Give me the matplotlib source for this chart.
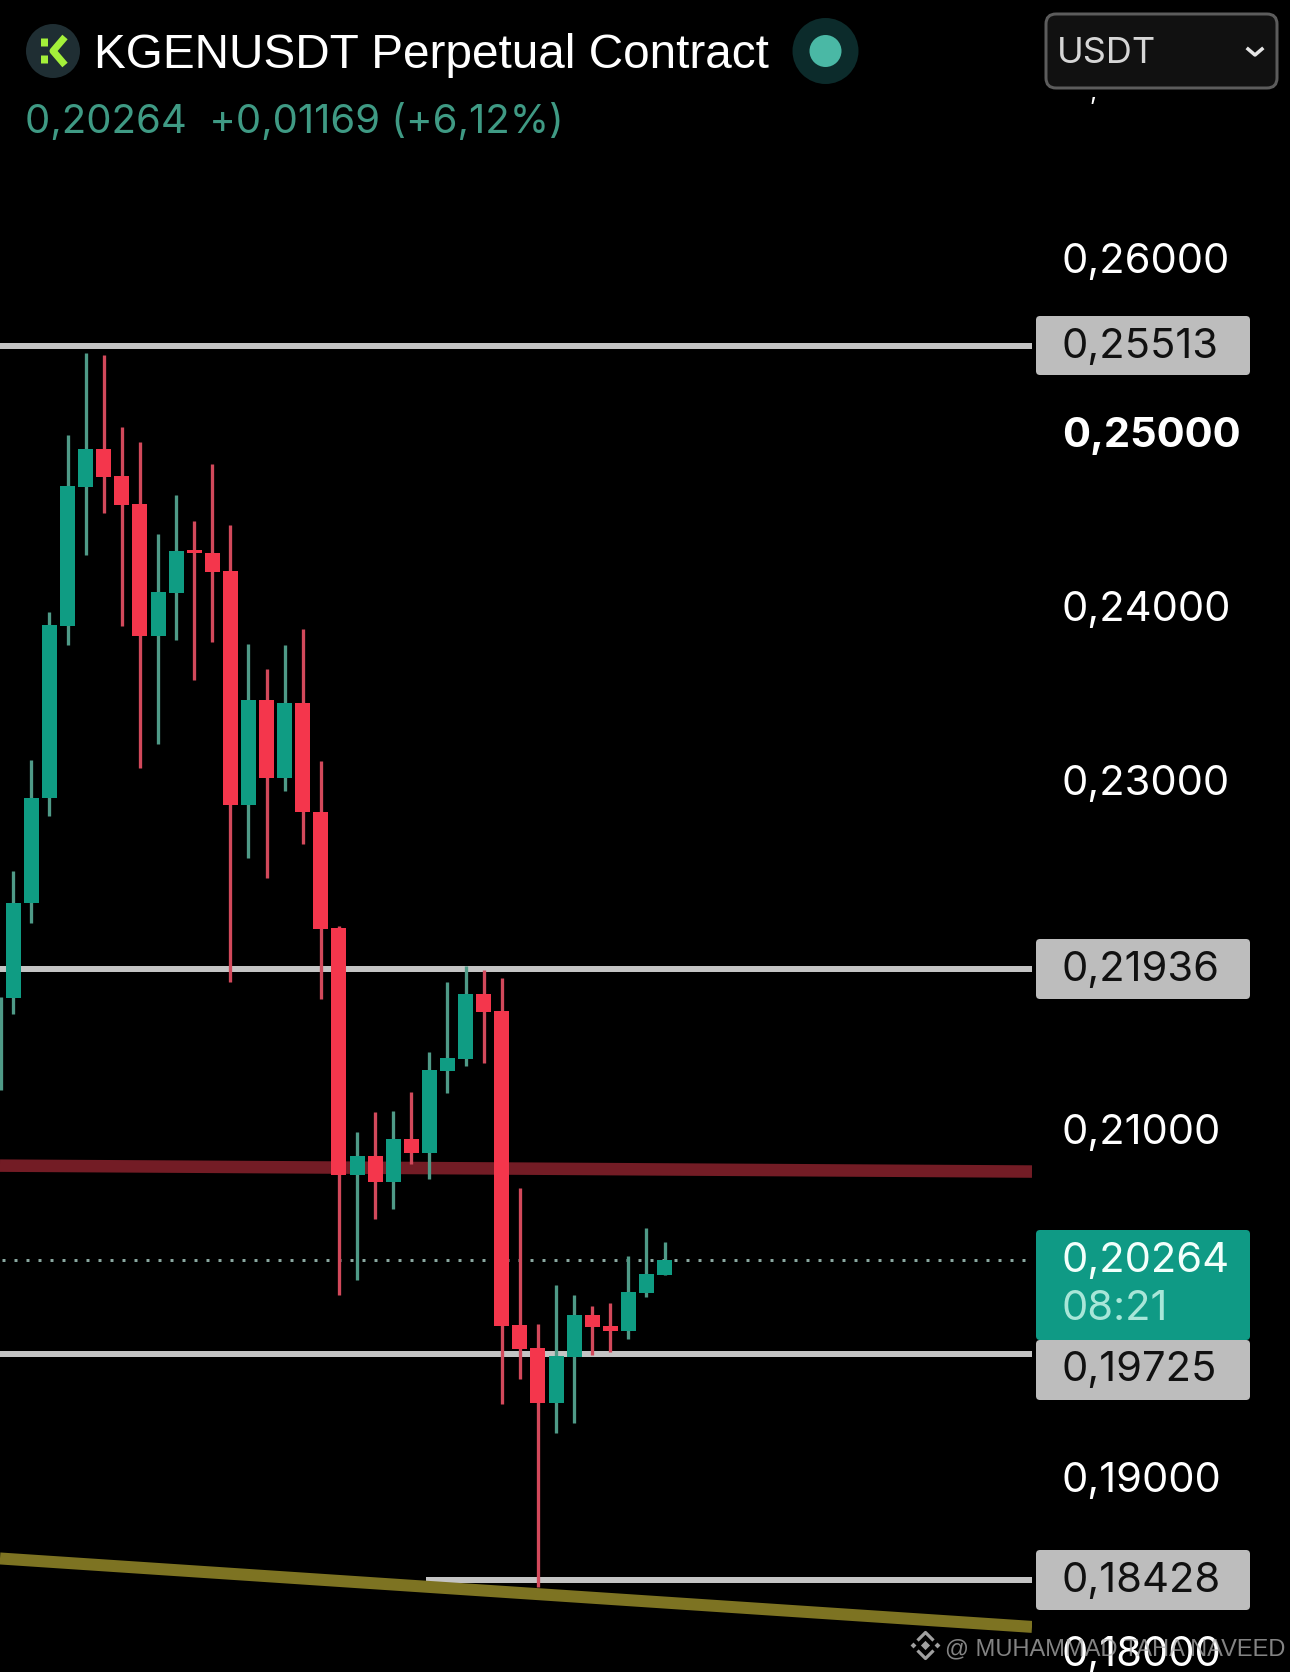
import matplotlib
matplotlib.use("Agg")
import matplotlib.pyplot as plt
from matplotlib.patches import Circle, FancyBboxPatch
from matplotlib.transforms import ScaledTranslation

FONT = "Inter"
TITLE_FONT = "Liberation Sans"

opens = [0.21772, 0.22314, 0.22917, 0.23909, 0.24707, 0.24923, 0.24768, 0.24607, 0.23851, 0.24098,
         0.24343, 0.24326, 0.24223, 0.22881, 0.23482, 0.23036, 0.23465, 0.22839, 0.22173, 0.20756,
         0.20863, 0.20716, 0.20961, 0.20882, 0.21353, 0.21422, 0.21794, 0.21696, 0.19893, 0.19759,
         0.19445, 0.19711, 0.19950, 0.19887, 0.19858, 0.20077, 0.20182]
closes = [0.22314, 0.22917, 0.23913, 0.24711, 0.24923, 0.24764, 0.24602, 0.23851, 0.24102, 0.24338,
          0.24328, 0.24219, 0.22881, 0.23482, 0.23036, 0.23465, 0.22837, 0.22169, 0.20756, 0.20863,
          0.20716, 0.20961, 0.20882, 0.21357, 0.21426, 0.21794, 0.21692, 0.19889, 0.19755, 0.19445,
          0.19715, 0.19950, 0.19881, 0.19858, 0.20082, 0.20186, 0.20264]
highs = [0.22500, 0.23137, 0.23986, 0.25004, 0.25475, 0.25463, 0.25050, 0.24963, 0.24435, 0.24659,
         0.24510, 0.24835, 0.24487, 0.23804, 0.23660, 0.23798, 0.23890, 0.23132, 0.22182, 0.21001,
         0.21116, 0.21122, 0.21231, 0.21461, 0.21862, 0.21954, 0.21931, 0.21886, 0.20680, 0.19899,
         0.20123, 0.20065, 0.20002, 0.20019, 0.20289, 0.20450, 0.20370]
lows = [0.21679, 0.22203, 0.22818, 0.23798, 0.24315, 0.24557, 0.23907, 0.23093, 0.23231, 0.23828,
        0.23598, 0.23815, 0.21864, 0.22576, 0.22461, 0.22961, 0.22653, 0.21765, 0.20065, 0.20153,
        0.20503, 0.20561, 0.20817, 0.20733, 0.21225, 0.21382, 0.21397, 0.19439, 0.19583, 0.18387,
        0.19273, 0.19330, 0.19721, 0.19740, 0.19813, 0.20055, 0.20182]
# wick of an earlier candle, only its wick enters the picture at the left edge
edge_wick_slot = -0.68
edge_wick_high = 0.21776
edge_wick_low = 0.21242

level_values = [0.25513, 0.21936, 0.19725]
low_level_value = 0.18428
low_level_start = 22.8
last_price = 0.20264
red_zone_prices = [0.20808, 0.20774]
olive_trend_prices = [0.18552, 0.18159]
tick_values = [0.26, 0.25, 0.24, 0.23, 0.21, 0.19, 0.18]
tick_labels = ["0,26000", "0,25000", "0,24000", "0,23000", "0,21000", "0,19000", "0,18000"]

title = "KGENUSDT Perpetual Contract"
subtitle = "0,20264  +0,01169 (+6,12%)"

GREEN, RED = "#0f9c83", "#f4364c"
GREEN_W, RED_W = "#4f9a87", "#d2495b"
GREY = "#bdbdbd"
W, H = 1290, 1672
px = lambda v: v * 72 / 100

fig = plt.figure(figsize=(W / 100, H / 100), dpi=100, facecolor="black")
ax = fig.add_axes([0, 0, 1032 / W, 1], facecolor="black")
ax.set_xlim(-0.735, 56.31)
ax.set_ylim(0.17900, 0.27502)
for s in ax.spines.values():
    s.set_visible(False)
ax.set_xticks([])

slots = list(range(len(opens)))
up = [c >= o for o, c in zip(opens, closes)]

for v in level_values:
    ax.axhline(v, color="#c4c4c4", lw=px(6), zorder=1)
ax.hlines(low_level_value, low_level_start, 56.31, color="#c4c4c4", lw=px(6), zorder=1)
ax.plot([-0.735, 56.31], red_zone_prices, color="#731c25", lw=px(12.5), zorder=1, solid_capstyle="butt")
ax.plot([-0.735, 56.31], olive_trend_prices, color="#7d7322", lw=px(12), zorder=1.5, solid_capstyle="butt")
ax.hlines(last_price, -0.65, 56.2, color="#8aa8a0", lw=px(3), linestyles=[(0, (1, 3))], zorder=1.2)

ax.vlines([edge_wick_slot], [edge_wick_low], [edge_wick_high], color=GREEN_W, lw=px(3.3), zorder=2)
ax.vlines(slots, lows, highs, color=[GREEN_W if u else RED_W for u in up], lw=px(3.3), zorder=2)
ax.bar(slots, [abs(c - o) for o, c in zip(opens, closes)], bottom=[min(o, c) for o, c in zip(opens, closes)],
       width=0.83, color=[GREEN if u else RED for u in up], zorder=3)

ax.yaxis.tick_right()
ax.set_yticks(tick_values)
ax.set_yticklabels(tick_labels)
ax.tick_params(axis="y", length=0, pad=px(30), labelsize=30, labelcolor="white")
shift = ScaledTranslation(0, -11.5 / 100, fig.dpi_scale_trans)
for t, lab in zip(ax.yaxis.get_major_ticks(), tick_labels):
    t.label2.set_family(FONT)
    t.label2.set_va("baseline")
    t.label2.set_transform(t.label2.get_transform() + shift)
    if lab == "0,25000":
        t.label2.set_fontweight("bold")

# header, price tags and watermark in pixel coordinates
ov = fig.add_axes([0, 0, 1, 1], facecolor="none", zorder=5)
ov.set_xlim(0, W)
ov.set_ylim(H, 0)
ov.axis("off")


def tag(y0, y1, color):
    ov.add_patch(FancyBboxPatch((1036, y0), 214, y1 - y0, boxstyle="round,pad=0,rounding_size=4",
                                fc=color, ec="none"))


def label(x, y, s, color, size=30, family=FONT, **kw):
    ov.text(x, y, s, color=color, fontsize=size, family=family, va="baseline", ha="left", **kw)


tag(316, 375, GREY)
tag(939, 999, GREY)
tag(1340, 1400, GREY)
tag(1550, 1610, GREY)
tag(1230, 1340, "#0f9a85")
label(1062, 358, "0,25513", "#111111")
label(1062, 981, "0,21936", "#111111")
label(1062, 1381, "0,19725", "#111111")
label(1062, 1592, "0,18428", "#111111")
label(1062, 1272, "0,20264", "#f2fffb")
label(1062, 1320, "08:21", "#a8e6d8")

# logo
ov.add_patch(Circle((53, 51), 27, fc="#1f2e33", ec="none"))
ov.plot([43.5, 43.5], [38, 46], color="#a4f03a", lw=px(7), solid_capstyle="butt")
ov.plot([43.5, 43.5], [55, 63], color="#a4f03a", lw=px(7), solid_capstyle="butt")
ov.plot([65, 53, 65], [37, 51, 65], color="#a4f03a", lw=px(7), solid_capstyle="butt")

label(94, 68, title, "white", size=34.4, family=TITLE_FONT)
label(25, 133, subtitle, "#3f9a84", size=28.9)

ov.add_patch(Circle((825.5, 51), 33, fc="#0c2b2b", ec="none"))
ov.add_patch(Circle((825.5, 51), 16, fc="#4ab8a5", ec="none"))

ov.add_patch(FancyBboxPatch((1046, 14), 231, 74, boxstyle="round,pad=0,rounding_size=10",
                            fc="#111111", ec="#5c5c5c", lw=px(3)))
label(1057, 63, "USDT", "#d6d6d6", size=26)
ov.plot([1248, 1255, 1262], [49, 55, 49], color="#e6e6e6", lw=px(3.5))
label(1089, 100, ",", "white", size=18)

# watermark
wm = "#a0a0a0"
cx, cy = 925.5, 1645.5
ov.plot([cx - 8, cx, cx + 8], [cy - 5, cy - 13, cy - 5], color=wm, lw=px(3.2), solid_capstyle="butt")
ov.plot([cx - 8, cx, cx + 8], [cy + 5, cy + 13, cy + 5], color=wm, lw=px(3.2), solid_capstyle="butt")
ov.scatter([cx, cx - 12, cx + 12], [cy, cy, cy], marker="D", s=[22, 9, 9], color=wm, linewidths=0)
label(945, 1655, "@ MUHAMMAD TAHA NAVEED", "#b0b0b0", size=17, family=TITLE_FONT, alpha=0.75)

fig.savefig("out.png", dpi=100, facecolor="black")
